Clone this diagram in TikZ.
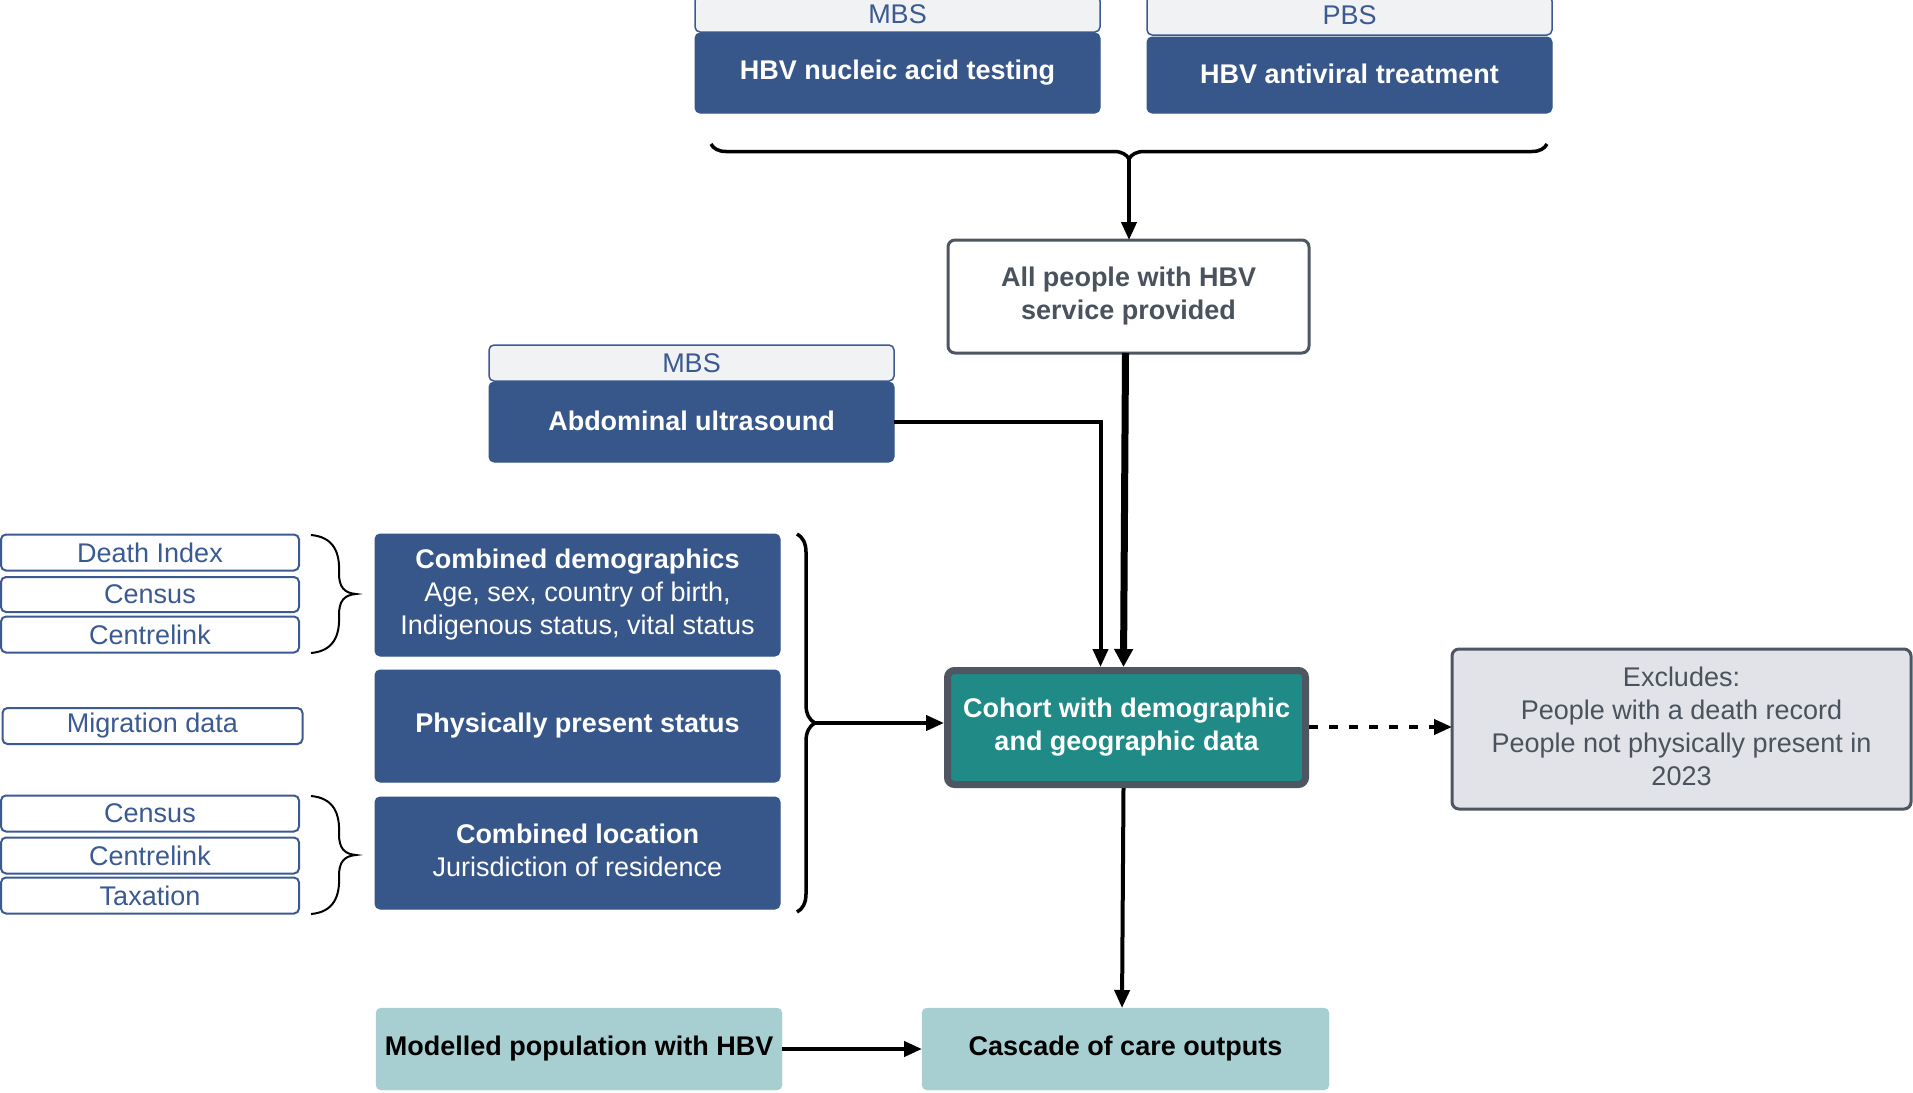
\documentclass[tikz,border=0pt]{standalone}
\usepackage{fontspec}
\setmainfont{Liberation Sans}
\usetikzlibrary{arrows.meta,calc,decorations.pathreplacing}
\definecolor{navy}{HTML}{37578B}
\definecolor{hdrfill}{HTML}{F1F2F4}
\definecolor{hdrtext}{HTML}{3B5A92}
\definecolor{greyline}{HTML}{4E5662}
\definecolor{greytext}{HTML}{4A525D}
\definecolor{tealdark}{HTML}{1F8A86}
\definecolor{teallight}{HTML}{A7CFD1}
\definecolor{exclfill}{HTML}{E1E3E8}
\begin{document}
\begin{tikzpicture}[x=1pt,y=-1pt,
  every node/.style={font=\fontsize{27pt}{33pt}\selectfont, inner sep=0pt, outer sep=0pt, align=center},
  bluebox/.style={rectangle, rounded corners=5pt, fill=navy, draw=navy, line width=1pt, text=white, font=\fontsize{27pt}{33pt}\selectfont\bfseries},
  hdrbox/.style={rectangle, rounded corners=5pt, fill=hdrfill, draw=hdrtext, line width=1.5pt, text=hdrtext},
  srcbox/.style={rectangle, rounded corners=5pt, fill=white, draw=hdrtext, line width=2pt, text=hdrtext, minimum width=298pt},
  lightbox/.style={rectangle, rounded corners=5pt, fill=teallight, draw=teallight, text=black, font=\fontsize{27pt}{33pt}\selectfont\bfseries, minimum width=406pt, minimum height=82pt},
  conn/.style={line width=4pt, -{Triangle[length=18pt,width=15pt]}},
  bracestyle/.style={line width=3.5pt, decorate},
  smallbrace/.style={line width=2pt}
]
\useasboundingbox (0,0) rectangle (1913,1092);

% top sources
\node[hdrbox, minimum width=405pt, minimum height=36pt] (mbsA) at (897.5,14) {MBS};
\node[bluebox, minimum width=405pt, minimum height=80pt] (nat) at (897.5,73) {HBV nucleic acid testing};
\node[hdrbox, minimum width=405pt, minimum height=39pt] (pbs) at (1349.5,15.5) {PBS};
\node[bluebox, minimum width=405pt, minimum height=76pt] (avt) at (1349.5,75) {\raisebox{3pt}{HBV antiviral treatment}};

\draw[bracestyle, decoration={brace, amplitude=15pt, mirror}] (711,144) -- (1547,144);
\coordinate (toptip) at (1129,159);

\node[rectangle, rounded corners=7pt, fill=white, draw=greyline, line width=3pt, text=greytext,
      font=\fontsize{27pt}{33pt}\selectfont\bfseries, minimum width=361pt, minimum height=113pt] (allp) at (1128.5,296.5)
      {All people with HBV\\service provided};

% abdominal ultrasound
\node[hdrbox, minimum width=405pt, minimum height=36pt] (mbsB) at (691.5,363) {MBS};
\node[bluebox, minimum width=405pt, minimum height=80pt] (abd) at (691.5,422) {\raisebox{3pt}{Abdominal ultrasound}};

% cohort
\node[rectangle, rounded corners=7pt, fill=tealdark, draw=greyline, line width=7pt, text=white,
      font=\fontsize{27pt}{33pt}\selectfont\bfseries, minimum width=358pt, minimum height=114pt] (cohort) at (1126.5,727.5)
      {Cohort with demographic\\and geographic data};

% middle blue boxes
\node[bluebox, minimum width=405pt, minimum height=122pt, font=\fontsize{27pt}{33pt}\selectfont] (demo) at (577.5,595)
      {\textbf{Combined demographics}\\Age, sex, country of birth,\\Indigenous status, vital status};
\node[bluebox, minimum width=405pt, minimum height=112pt] (phys) at (577.5,726) {Physically present status};
\node[bluebox, minimum width=405pt, minimum height=112pt, font=\fontsize{27pt}{33pt}\selectfont] (loc) at (577.5,853)
      {\raisebox{4pt}{\begin{tabular}{@{}c@{}}\textbf{Combined location}\\Jurisdiction of residence\end{tabular}}};

% source boxes
\node[srcbox, minimum height=36pt] (death) at (150,552.5) {Death Index};
\node[srcbox, minimum height=35pt] (census1) at (150,594.5) {Census};
\node[srcbox, minimum height=36pt] (centre1) at (150,634.5) {Centrelink};
\node[srcbox, minimum height=36pt, minimum width=300pt] (migr) at (152.5,726) {\raisebox{-2pt}{Migration data}};
\node[srcbox, minimum height=36pt] (census2) at (150,813.5) {Census};
\node[srcbox, minimum height=36pt] (centre2) at (150,855.5) {Centrelink};
\node[srcbox, minimum height=36pt] (tax) at (150,895.5) {Taxation};

% small braces
\draw[smallbrace] (311,535) .. controls (334,537) and (340,553) .. (339,573)
  .. controls (339,587) and (344,593) .. (356,594)
  .. controls (344,595) and (339,601) .. (339,615)
  .. controls (340,635) and (334,651) .. (311,653);
\draw[smallbrace] (311,796) .. controls (334,798) and (340,814) .. (339,834)
  .. controls (339,848) and (344,854) .. (356,855)
  .. controls (344,856) and (339,862) .. (339,876)
  .. controls (340,896) and (334,912) .. (311,914);

% big right brace
\draw[bracestyle, decoration={brace, amplitude=18pt}] (797,534) -- (797,912);
\coordinate (righttip) at (815,723);

% excludes
\node[rectangle, rounded corners=7pt, fill=exclfill, draw=greyline, line width=3pt, text=greytext,
      minimum width=459pt, minimum height=160pt] (excl) at (1681.5,729)
      {\raisebox{3pt}{\begin{tabular}{@{}c@{}}Excludes:\\People with a death record\\People not physically present in\\2023\end{tabular}}};

% bottom
\node[lightbox] (model) at (579,1049) {Modelled population with HBV};
\node[lightbox, minimum width=407pt] (casc) at (1125.5,1049) {Cascade of care outputs};

% connectors
\draw[conn] (toptip) -- (allp.north -| toptip);
\draw[line width=7pt, -{Triangle[length=18pt,width=18pt]}] ($(allp.south)+(-3,0)$) -- ($(cohort.north)+(-3,-3.5)$);
\draw[conn] (abd.east) -| ($(cohort.north)+(-26,-3.5)$);
\draw[conn] (righttip) -- ($(righttip -| cohort.west)+(-3.5,0)$);
\draw[conn, dash pattern=on 9pt off 11pt] ($(righttip -| cohort.east)+(3.5,4)$) -- ($(righttip -| excl.west)+(0,4)$);
\draw[conn] ($(cohort.south)+(-3,3.5)$) -- ($(casc.north)+(-3.5,0)$);
\draw[conn] (model.east) -- (casc.west);
\end{tikzpicture}
\end{document}
